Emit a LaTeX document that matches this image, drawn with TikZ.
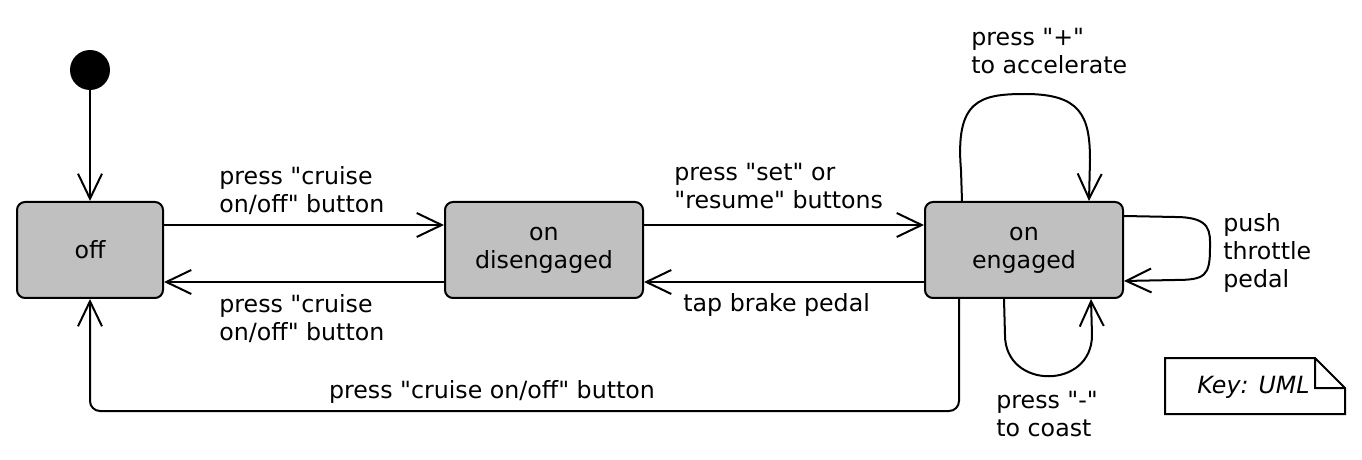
\documentclass[tikz,border=0pt]{standalone}
\usepackage{fontspec}
\setmainfont{DejaVu Sans}[Ligatures=TeXOff]
\usetikzlibrary{arrows.meta,calc}
\definecolor{stategray}{RGB}{192,192,192}
\tikzset{
  statebox/.style={draw,fill=stategray,rounded corners=4pt,line width=1pt,align=center,minimum height=48pt},
  trans/.style={line width=1pt,-{Straight Barb[length=12.5pt,width=12pt,line width=1pt]}},
  lbl/.style={align=left,inner sep=0pt,anchor=west}
}
\begin{document}
\begin{tikzpicture}[x=0.5pt,y=-0.5pt,font=\fontsize{11.85}{14}\selectfont]
	\useasboundingbox (0,0) rectangle (1362,460);
	\node[circle,fill=black,minimum size=20pt,inner sep=0pt] (init) at (90,70) {};
	\node[statebox,minimum width=73pt] (off) at (90,250) {off};
	\node[statebox,minimum width=99pt] (dis) at (544,250) {on\\disengaged};
	\node[statebox,minimum width=99pt] (eng) at (1024,250) {on\\engaged};
	\draw[trans] (init) -- (off);
	\draw[trans] ($(off.east)+(0,-25)$) -- ($(dis.west)+(0,-25)$);
	\draw[trans] ($(dis.west)+(0,32)$) -- ($(off.east)+(0,32)$);
	\draw[trans] ($(dis.east)+(0,-25)$) -- ($(eng.west)+(0,-25)$);
	\draw[trans] ($(eng.west)+(0,32)$) -- ($(dis.east)+(0,32)$);
	\draw[trans,rounded corners=5pt] ($(eng.south west)+(35,0)$) -- ++(0,112) -| (off.south);
	\draw[trans] ($(eng.north west)+(38,0)$) -- (961,170) .. controls (955,100) and (980,94) .. (1025,94) .. controls (1080,94) and (1090,115) .. (1090,160) -- ($(eng.north west)+(165,0)$);
	\draw[trans] ($(eng.north east)+(0,15)$) -- (1175,217) .. controls (1212,217) and (1210,232) .. (1210,248) .. controls (1210,276) and (1205,280) .. (1175,280) -- ($(eng.south east)+(0,-18)$);
	\draw[trans] ($(eng.south west)+(80,0)$) -- (1005,335) .. controls (1005,390) and (1092,390) .. (1092,335) -- ($(eng.south west)+(167,0)$);
	\node[lbl] (l1) at (219,191) {press "cruise\\on/off" button};
	\node[lbl] (l2) at (219,319) {press "cruise\\on/off" button};
	\node[lbl] (l3) at (674,186) {press "set" or\\"resume" buttons};
	\node[lbl] (l4) at (683,305) {tap brake pedal};
	\node (l5) at (492,392) {press "cruise on/off" button};
	\node[lbl] (l6) at (971,51) {press "+"\\to accelerate};
	\node[lbl] (l7) at (1223,253) {push\\throttle\\pedal};
	\node[lbl] (l8) at (996,414) {press "-"\\to coast};
	\draw[line width=1pt,fill=white] (1165,358) -- (1315,358) -- (1345,388) -- (1345,414) -- (1165,414) -- cycle (1315,358) -- (1315,388) -- (1345,388);
	\node[anchor=east,inner sep=0pt,font=\fontsize{11.85}{14}\selectfont\itshape] (key) at (1310,387) {Key: UML};
\end{tikzpicture}
\end{document}
